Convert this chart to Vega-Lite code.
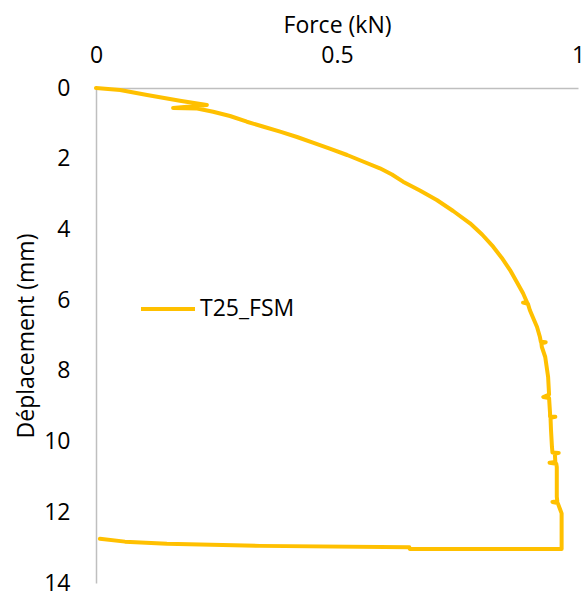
{
  "$schema": "https://vega.github.io/schema/vega-lite/v6.json",
  "width": 482,
  "height": 495,
  "autosize": {"type": "none"},
  "padding": {"left": 96, "top": 88, "right": 10, "bottom": 10},
  "background": "white",
  "config": {
    "view": {"stroke": null},
    "font": "Open Sans"
  },
  "data": {
    "values": [
      {"i": 0, "F": 0.0, "D": 0.0, "s": "T25_FSM"},
      {"i": 1, "F": 0.05, "D": 0.056, "s": "T25_FSM"},
      {"i": 2, "F": 0.106, "D": 0.198, "s": "T25_FSM"},
      {"i": 3, "F": 0.174, "D": 0.36, "s": "T25_FSM"},
      {"i": 4, "F": 0.23, "D": 0.48, "s": "T25_FSM"},
      {"i": 5, "F": 0.16, "D": 0.566, "s": "T25_FSM"},
      {"i": 6, "F": 0.21, "D": 0.58, "s": "T25_FSM"},
      {"i": 7, "F": 0.243, "D": 0.67, "s": "T25_FSM"},
      {"i": 8, "F": 0.278, "D": 0.792, "s": "T25_FSM"},
      {"i": 9, "F": 0.313, "D": 0.954, "s": "T25_FSM"},
      {"i": 10, "F": 0.346, "D": 1.089, "s": "T25_FSM"},
      {"i": 11, "F": 0.382, "D": 1.236, "s": "T25_FSM"},
      {"i": 12, "F": 0.417, "D": 1.386, "s": "T25_FSM"},
      {"i": 13, "F": 0.45, "D": 1.547, "s": "T25_FSM"},
      {"i": 14, "F": 0.485, "D": 1.717, "s": "T25_FSM"},
      {"i": 15, "F": 0.521, "D": 1.895, "s": "T25_FSM"},
      {"i": 16, "F": 0.554, "D": 2.079, "s": "T25_FSM"},
      {"i": 17, "F": 0.589, "D": 2.271, "s": "T25_FSM"},
      {"i": 18, "F": 0.614, "D": 2.447, "s": "T25_FSM"},
      {"i": 19, "F": 0.637, "D": 2.65, "s": "T25_FSM"},
      {"i": 20, "F": 0.672, "D": 2.899, "s": "T25_FSM"},
      {"i": 21, "F": 0.707, "D": 3.168, "s": "T25_FSM"},
      {"i": 22, "F": 0.741, "D": 3.479, "s": "T25_FSM"},
      {"i": 23, "F": 0.776, "D": 3.827, "s": "T25_FSM"},
      {"i": 24, "F": 0.801, "D": 4.144, "s": "T25_FSM"},
      {"i": 25, "F": 0.824, "D": 4.489, "s": "T25_FSM"},
      {"i": 26, "F": 0.842, "D": 4.808, "s": "T25_FSM"},
      {"i": 27, "F": 0.859, "D": 5.148, "s": "T25_FSM"},
      {"i": 28, "F": 0.873, "D": 5.487, "s": "T25_FSM"},
      {"i": 29, "F": 0.886, "D": 5.806, "s": "T25_FSM"},
      {"i": 30, "F": 0.894, "D": 6.053, "s": "T25_FSM"},
      {"i": 31, "F": 0.886, "D": 6.07, "s": "T25_FSM"},
      {"i": 32, "F": 0.896, "D": 6.1, "s": "T25_FSM"},
      {"i": 33, "F": 0.9, "D": 6.279, "s": "T25_FSM"},
      {"i": 34, "F": 0.907, "D": 6.505, "s": "T25_FSM"},
      {"i": 35, "F": 0.915, "D": 6.76, "s": "T25_FSM"},
      {"i": 36, "F": 0.921, "D": 7.043, "s": "T25_FSM"},
      {"i": 37, "F": 0.923, "D": 7.18, "s": "T25_FSM"},
      {"i": 38, "F": 0.933, "D": 7.19, "s": "T25_FSM"},
      {"i": 39, "F": 0.924, "D": 7.22, "s": "T25_FSM"},
      {"i": 40, "F": 0.925, "D": 7.325, "s": "T25_FSM"},
      {"i": 41, "F": 0.932, "D": 7.608, "s": "T25_FSM"},
      {"i": 42, "F": 0.938, "D": 8.174, "s": "T25_FSM"},
      {"i": 43, "F": 0.94, "D": 8.67, "s": "T25_FSM"},
      {"i": 44, "F": 0.928, "D": 8.74, "s": "T25_FSM"},
      {"i": 45, "F": 0.94, "D": 8.77, "s": "T25_FSM"},
      {"i": 46, "F": 0.942, "D": 9.192, "s": "T25_FSM"},
      {"i": 47, "F": 0.942, "D": 9.29, "s": "T25_FSM"},
      {"i": 48, "F": 0.953, "D": 9.3, "s": "T25_FSM"},
      {"i": 49, "F": 0.943, "D": 9.33, "s": "T25_FSM"},
      {"i": 50, "F": 0.944, "D": 9.673, "s": "T25_FSM"},
      {"i": 51, "F": 0.946, "D": 10.154, "s": "T25_FSM"},
      {"i": 52, "F": 0.947, "D": 10.31, "s": "T25_FSM"},
      {"i": 53, "F": 0.96, "D": 10.32, "s": "T25_FSM"},
      {"i": 54, "F": 0.952, "D": 10.35, "s": "T25_FSM"},
      {"i": 55, "F": 0.953, "D": 10.58, "s": "T25_FSM"},
      {"i": 56, "F": 0.941, "D": 10.6, "s": "T25_FSM"},
      {"i": 57, "F": 0.955, "D": 10.63, "s": "T25_FSM"},
      {"i": 58, "F": 0.956, "D": 10.72, "s": "T25_FSM"},
      {"i": 59, "F": 0.956, "D": 11.56, "s": "T25_FSM"},
      {"i": 60, "F": 0.957, "D": 11.69, "s": "T25_FSM"},
      {"i": 61, "F": 0.947, "D": 11.71, "s": "T25_FSM"},
      {"i": 62, "F": 0.958, "D": 11.74, "s": "T25_FSM"},
      {"i": 63, "F": 0.966, "D": 12.03, "s": "T25_FSM"},
      {"i": 64, "F": 0.966, "D": 13.04, "s": "T25_FSM"},
      {"i": 65, "F": 0.651, "D": 13.04, "s": "T25_FSM"},
      {"i": 66, "F": 0.65, "D": 12.99, "s": "T25_FSM"},
      {"i": 67, "F": 0.34, "D": 12.95, "s": "T25_FSM"},
      {"i": 68, "F": 0.147, "D": 12.89, "s": "T25_FSM"},
      {"i": 69, "F": 0.06, "D": 12.83, "s": "T25_FSM"},
      {"i": 70, "F": 0.008, "D": 12.75, "s": "T25_FSM"}
    ]
  },
  "mark": {"type": "line", "strokeWidth": 4, "strokeCap": "round", "strokeJoin": "round", "clip": false},
  "encoding": {
    "x": {
      "field": "F",
      "type": "quantitative",
      "scale": {"domain": [0, 1], "nice": false, "zero": false},
      "axis": {
        "orient": "top",
        "title": "Force (kN)",
        "values": [0, 0.5, 1],
        "labelExpr": "datum.value == 0.5 ? '0.5' : format(datum.value, 'd')",
        "labelFlush": false,
        "labelOverlap": false,
        "grid": false,
        "ticks": false,
        "domainColor": "#BFBFBF",
        "domainWidth": 1.5,
        "labelFontSize": 23,
        "labelColor": "#000000",
        "labelPadding": 21,
        "labelFont": "Open Sans",
        "titleFont": "Open Sans",
        "titleFontSize": 23,
        "titleFontWeight": "normal",
        "titleColor": "#000000",
        "titlePadding": 7
      }
    },
    "y": {
      "field": "D",
      "type": "quantitative",
      "scale": {"domain": [0, 14], "reverse": true, "nice": false, "zero": false},
      "axis": {
        "title": "Déplacement (mm)",
        "values": [0, 2, 4, 6, 8, 10, 12, 14],
        "labelFlush": false,
        "labelOverlap": false,
        "grid": false,
        "ticks": false,
        "domainColor": "#BFBFBF",
        "domainWidth": 1.5,
        "labelFontSize": 23,
        "labelColor": "#000000",
        "labelPadding": 26,
        "labelFont": "Open Sans",
        "titleFont": "Open Sans",
        "titleFontSize": 23,
        "titleFontWeight": "normal",
        "titleColor": "#000000",
        "titlePadding": 5
      }
    },
    "order": {"field": "i", "type": "quantitative"},
    "color": {
      "field": "s",
      "type": "nominal",
      "scale": {"range": ["#FFC000"]},
      "legend": {
        "title": null,
        "orient": "none",
        "legendX": 43,
        "legendY": 192,
        "symbolType": "stroke",
        "symbolSize": 2916,
        "symbolStrokeWidth": 4,
        "labelFontSize": 23,
        "labelFont": "Open Sans",
        "labelColor": "#000000",
        "labelOffset": 3
      }
    }
  }
}
